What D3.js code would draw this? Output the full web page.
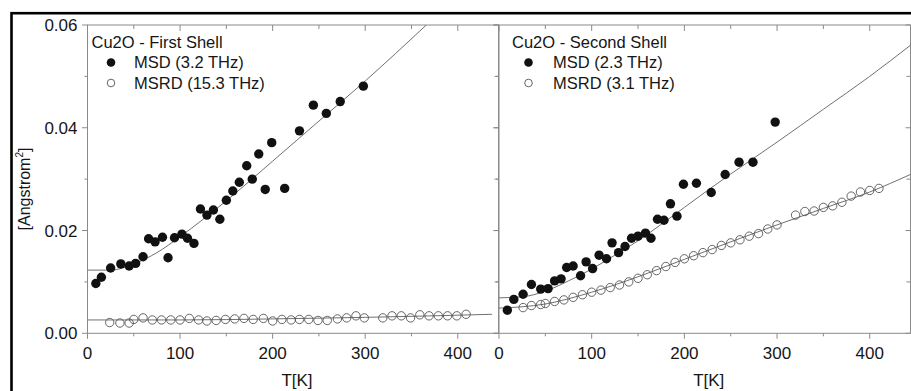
<!DOCTYPE html>
<html>
<head>
<meta charset="utf-8">
<script src="https://cdn.jsdelivr.net/npm/d3@7"></script>
<style>
  body { margin: 0; background: #fff; }
  svg { display: block; font-family: "Liberation Sans", Arial, sans-serif; }
</style>
</head>
<body>
<div id="chart"></div>
<script>
// tick values
const xTicks = [0, 100, 200, 300, 400];
const xMinorTicks = [50, 150, 250, 350];
const yTicks = [0.00, 0.02, 0.04, 0.06];
const yMinorTicks = [0.01, 0.03, 0.05];

// first shell
const firstMsdT = [9, 15, 25, 36, 45, 52, 60, 66, 73, 81, 87, 94, 102, 108, 115, 122, 129, 136, 143, 150,
  157, 164, 172, 178, 185, 192, 199, 213, 229, 244, 258, 273, 298];
const firstMsd = [0.0097, 0.0109, 0.0127, 0.0135, 0.0131, 0.0136, 0.0149, 0.0184, 0.0178, 0.0187, 0.0147,
  0.0186, 0.0193, 0.0185, 0.0175, 0.0242, 0.0230, 0.0240, 0.0222, 0.0259, 0.0277, 0.0294, 0.0326, 0.0300,
  0.0349, 0.0280, 0.0371, 0.0282, 0.0394, 0.0444, 0.0428, 0.0451, 0.0481];
const firstMsrdT = [24, 35, 45, 50, 60, 70, 80, 90, 100, 110, 120, 129, 139, 149, 159, 169, 179, 190, 200, 210,
  220, 229, 239, 249, 259, 270, 280, 290, 299, 319, 329, 339, 349, 359, 369, 379, 389, 399, 409];
const firstMsrd = [0.0021, 0.0020, 0.0020, 0.0027, 0.0030, 0.0026, 0.0026, 0.0026, 0.0026, 0.0029,
  0.0026, 0.0024, 0.0025, 0.0027, 0.0028, 0.0029, 0.0027, 0.0029, 0.0024, 0.0027,
  0.0026, 0.0027, 0.0027, 0.0025, 0.0025, 0.0028, 0.0030, 0.0034, 0.0030,
  0.0030, 0.0034, 0.0034, 0.0030, 0.0036, 0.0034, 0.0034, 0.0034, 0.0034, 0.0037];
const firstMsdFitT = [0, 25, 50, 75, 100, 125, 150, 175, 200, 250, 300, 366];
const firstMsdFit = [0.0123, 0.0123, 0.0135, 0.0157, 0.0188, 0.0222, 0.0258, 0.0296, 0.0335, 0.0413, 0.0491, 0.0600];
const firstMsrdFitT = [0, 100, 200, 300, 437];
const firstMsrdFit = [0.0026, 0.0026, 0.0028, 0.0031, 0.0037];

// second shell
const secondMsdT = [9, 16, 26, 35, 45, 53, 60, 67, 73, 80, 88, 94, 101, 108, 116, 122, 129, 136, 143, 150,
  158, 164, 171, 178, 185, 192, 199, 213, 229, 244, 259, 274, 298];
const secondMsd = [0.0045, 0.0066, 0.0076, 0.0095, 0.0086, 0.0087, 0.0102, 0.0106, 0.0128, 0.0131,
  0.0112, 0.0139, 0.0126, 0.0152, 0.0145, 0.0176, 0.0157, 0.0169, 0.0185, 0.0189,
  0.0195, 0.0185, 0.0222, 0.0220, 0.0252, 0.0228, 0.0290, 0.0292, 0.0274, 0.0309, 0.0333, 0.0333, 0.0411];
const secondMsrdT = [26, 35, 45, 50, 60, 70, 80, 90, 100, 110, 120, 130, 140, 150, 160, 170, 180, 190, 200, 210,
  220, 230, 240, 250, 260, 270, 280, 290, 300, 320, 330, 340, 350, 360, 370, 380, 390, 400, 410];
const secondMsrd = [0.0050, 0.0054, 0.0056, 0.0058, 0.0062, 0.0065, 0.0070, 0.0075, 0.0080, 0.0084,
  0.0089, 0.0094, 0.0100, 0.0107, 0.0114, 0.0122, 0.0130, 0.0138, 0.0145, 0.0151,
  0.0157, 0.0163, 0.0171, 0.0176, 0.0182, 0.0189, 0.0194, 0.0203, 0.0211,
  0.0230, 0.0237, 0.0238, 0.0245, 0.0248, 0.0255, 0.0267, 0.0275, 0.0278, 0.0282];
const secondMsdFitT = [0, 25, 50, 75, 100, 125, 150, 175, 200, 225, 250, 300, 350, 400, 445];
const secondMsdFit = [0.0069, 0.0071, 0.0082, 0.0102, 0.0125, 0.0152, 0.0180, 0.0212, 0.0245, 0.0278, 0.0310,
  0.0372, 0.0436, 0.0500, 0.0562];
const secondMsrdFitT = [0, 50, 100, 150, 200, 250, 300, 350, 400, 445];
const secondMsrdFit = [0.0049, 0.0057, 0.0080, 0.0110, 0.0144, 0.0178, 0.0211, 0.0243, 0.0275, 0.0310];

const panels = [
  { title: 'Cu2O - First Shell', msdLabel: 'MSD (3.2 THz)', msrdLabel: 'MSRD (15.3 THz)',
    msdT: firstMsdT, msd: firstMsd, msrdT: firstMsrdT, msrd: firstMsrd,
    msdFitT: firstMsdFitT, msdFit: firstMsdFit, msrdFitT: firstMsrdFitT, msrdFit: firstMsrdFit },
  { title: 'Cu2O - Second Shell', msdLabel: 'MSD (2.3 THz)', msrdLabel: 'MSRD (3.1 THz)',
    msdT: secondMsdT, msd: secondMsd, msrdT: secondMsrdT, msrd: secondMsrd,
    msdFitT: secondMsdFitT, msdFit: secondMsdFit, msrdFitT: secondMsrdFitT, msrdFit: secondMsrdFit }
];

const W = 911, H = 391;
const plotTop = 25, plotBottom = 333.3;
const layout = [
  { left: 87.5, right: 498.5, labels: true, titleX: 4, markX: 23.5, textX: 46.5, axisLabelDx: 4 },
  { left: 499, right: 910.5, labels: false, titleX: 13, markX: 29.5, textX: 54, axisLabelDx: 4 }
];
const axisColor = '#8a8a8a';
const fitColor = '#707070';
const textColor = '#161616';

const svg = d3.select('#chart').append('svg')
  .attr('width', W).attr('height', H);

svg.append('rect').attr('width', W).attr('height', H).attr('fill', '#fff');

// outer frame
svg.append('rect')
  .attr('x', 11.5).attr('y', 13.2)
  .attr('width', W + 20).attr('height', H + 20)
  .attr('fill', 'none').attr('stroke', '#000').attr('stroke-width', 2.6);

panels.forEach((p, i) => drawPanel(p, layout[i], i));

function drawPanel(p, lay, idx) {
  const x = d3.scaleLinear().domain([0, 444]).range([lay.left, lay.right]);
  const y = d3.scaleLinear().domain([0, 0.06]).range([plotBottom, plotTop]);
  const g = svg.append('g');

  const clipId = 'clip' + idx;
  svg.append('clipPath').attr('id', clipId)
    .append('rect').attr('x', lay.left).attr('y', plotTop)
    .attr('width', lay.right - lay.left).attr('height', plotBottom - plotTop);

  // frame lines
  g.append('rect')
    .attr('x', lay.left).attr('y', plotTop)
    .attr('width', lay.right - lay.left).attr('height', plotBottom - plotTop)
    .attr('fill', 'none').attr('stroke', axisColor).attr('stroke-width', 1);

  // bottom ticks (outward) and top ticks (inward)
  const tickG = g.append('g').attr('stroke', axisColor).attr('stroke-width', 1);
  xTicks.forEach(t => {
    tickG.append('line').attr('x1', x(t)).attr('x2', x(t)).attr('y1', plotBottom).attr('y2', plotBottom + 5.5);
    tickG.append('line').attr('x1', x(t)).attr('x2', x(t)).attr('y1', plotTop).attr('y2', plotTop + 6);
  });
  xMinorTicks.forEach(t => {
    tickG.append('line').attr('x1', x(t)).attr('x2', x(t)).attr('y1', plotBottom).attr('y2', plotBottom + 3);
    tickG.append('line').attr('x1', x(t)).attr('x2', x(t)).attr('y1', plotTop).attr('y2', plotTop + 4);
  });
  yTicks.forEach(v => {
    tickG.append('line').attr('x1', lay.left - 5.5).attr('x2', lay.left).attr('y1', y(v)).attr('y2', y(v));
    tickG.append('line').attr('x1', lay.right - 5).attr('x2', lay.right).attr('y1', y(v)).attr('y2', y(v));
  });
  yMinorTicks.forEach(v => {
    tickG.append('line').attr('x1', lay.left - 3).attr('x2', lay.left).attr('y1', y(v)).attr('y2', y(v));
    tickG.append('line').attr('x1', lay.right - 4).attr('x2', lay.right).attr('y1', y(v)).attr('y2', y(v));
  });

  // tick labels
  g.selectAll('.xl').data(xTicks).enter().append('text')
    .attr('x', d => x(d)).attr('y', 358.5)
    .attr('text-anchor', 'middle').attr('font-size', 17).attr('fill', textColor)
    .text(d => d);
  if (lay.labels) {
    g.selectAll('.yl').data(yTicks).enter().append('text')
      .attr('x', 77.5).attr('y', d => y(d) + 6)
      .attr('text-anchor', 'end').attr('font-size', 17).attr('fill', textColor)
      .text(d => d3.format('.2f')(d));
  }

  // axis title
  g.append('text')
    .attr('x', (lay.left + lay.right) / 2 + lay.axisLabelDx).attr('y', 386)
    .attr('text-anchor', 'middle').attr('font-size', 17).attr('fill', textColor)
    .text('T[K]');

  // fit lines
  const line = d3.line().x(d => x(d[0])).y(d => y(d[1])).curve(d3.curveMonotoneX);
  const lines = g.append('g').attr('clip-path', `url(#${clipId})`);
  lines.append('path')
    .attr('d', line(d3.zip(p.msdFitT, p.msdFit)))
    .attr('fill', 'none').attr('stroke', fitColor).attr('stroke-width', 1);
  lines.append('path')
    .attr('d', line(d3.zip(p.msrdFitT, p.msrdFit)))
    .attr('fill', 'none').attr('stroke', fitColor).attr('stroke-width', 1);

  // hollow MSRD points
  g.append('g').selectAll('circle').data(d3.zip(p.msrdT, p.msrd)).enter().append('circle')
    .attr('cx', d => x(d[0])).attr('cy', d => y(d[1])).attr('r', 4.2)
    .attr('fill', 'none').attr('stroke', '#555').attr('stroke-width', 0.9);

  // filled MSD points
  g.append('g').selectAll('circle').data(d3.zip(p.msdT, p.msd)).enter().append('circle')
    .attr('cx', d => x(d[0])).attr('cy', d => y(d[1])).attr('r', 4.7)
    .attr('fill', '#111');

  // legend
  const lg = g.append('g').attr('font-size', 16.5).attr('fill', textColor);
  lg.append('text').attr('x', lay.left + lay.titleX).attr('y', 47.5).text(p.title);
  lg.append('circle').attr('cx', lay.left + lay.markX).attr('cy', 62.5).attr('r', 4.3).attr('fill', '#111');
  lg.append('text').attr('x', lay.left + lay.textX).attr('y', 68).text(p.msdLabel);
  lg.append('circle').attr('cx', lay.left + lay.markX).attr('cy', 83).attr('r', 3.8)
    .attr('fill', 'none').attr('stroke', '#555').attr('stroke-width', 0.9);
  lg.append('text').attr('x', lay.left + lay.textX).attr('y', 88.5).text(p.msrdLabel);
}

// y axis title
const yTitle = svg.append('text')
  .attr('transform', 'translate(30,189) rotate(-90)')
  .attr('text-anchor', 'middle').attr('font-size', 16).attr('fill', textColor);
yTitle.append('tspan').text('[Angstrom');
yTitle.append('tspan').attr('font-size', 10).attr('dy', -7).text('2');
yTitle.append('tspan').attr('dy', 7).text(']');
</script>
</body>
</html>
